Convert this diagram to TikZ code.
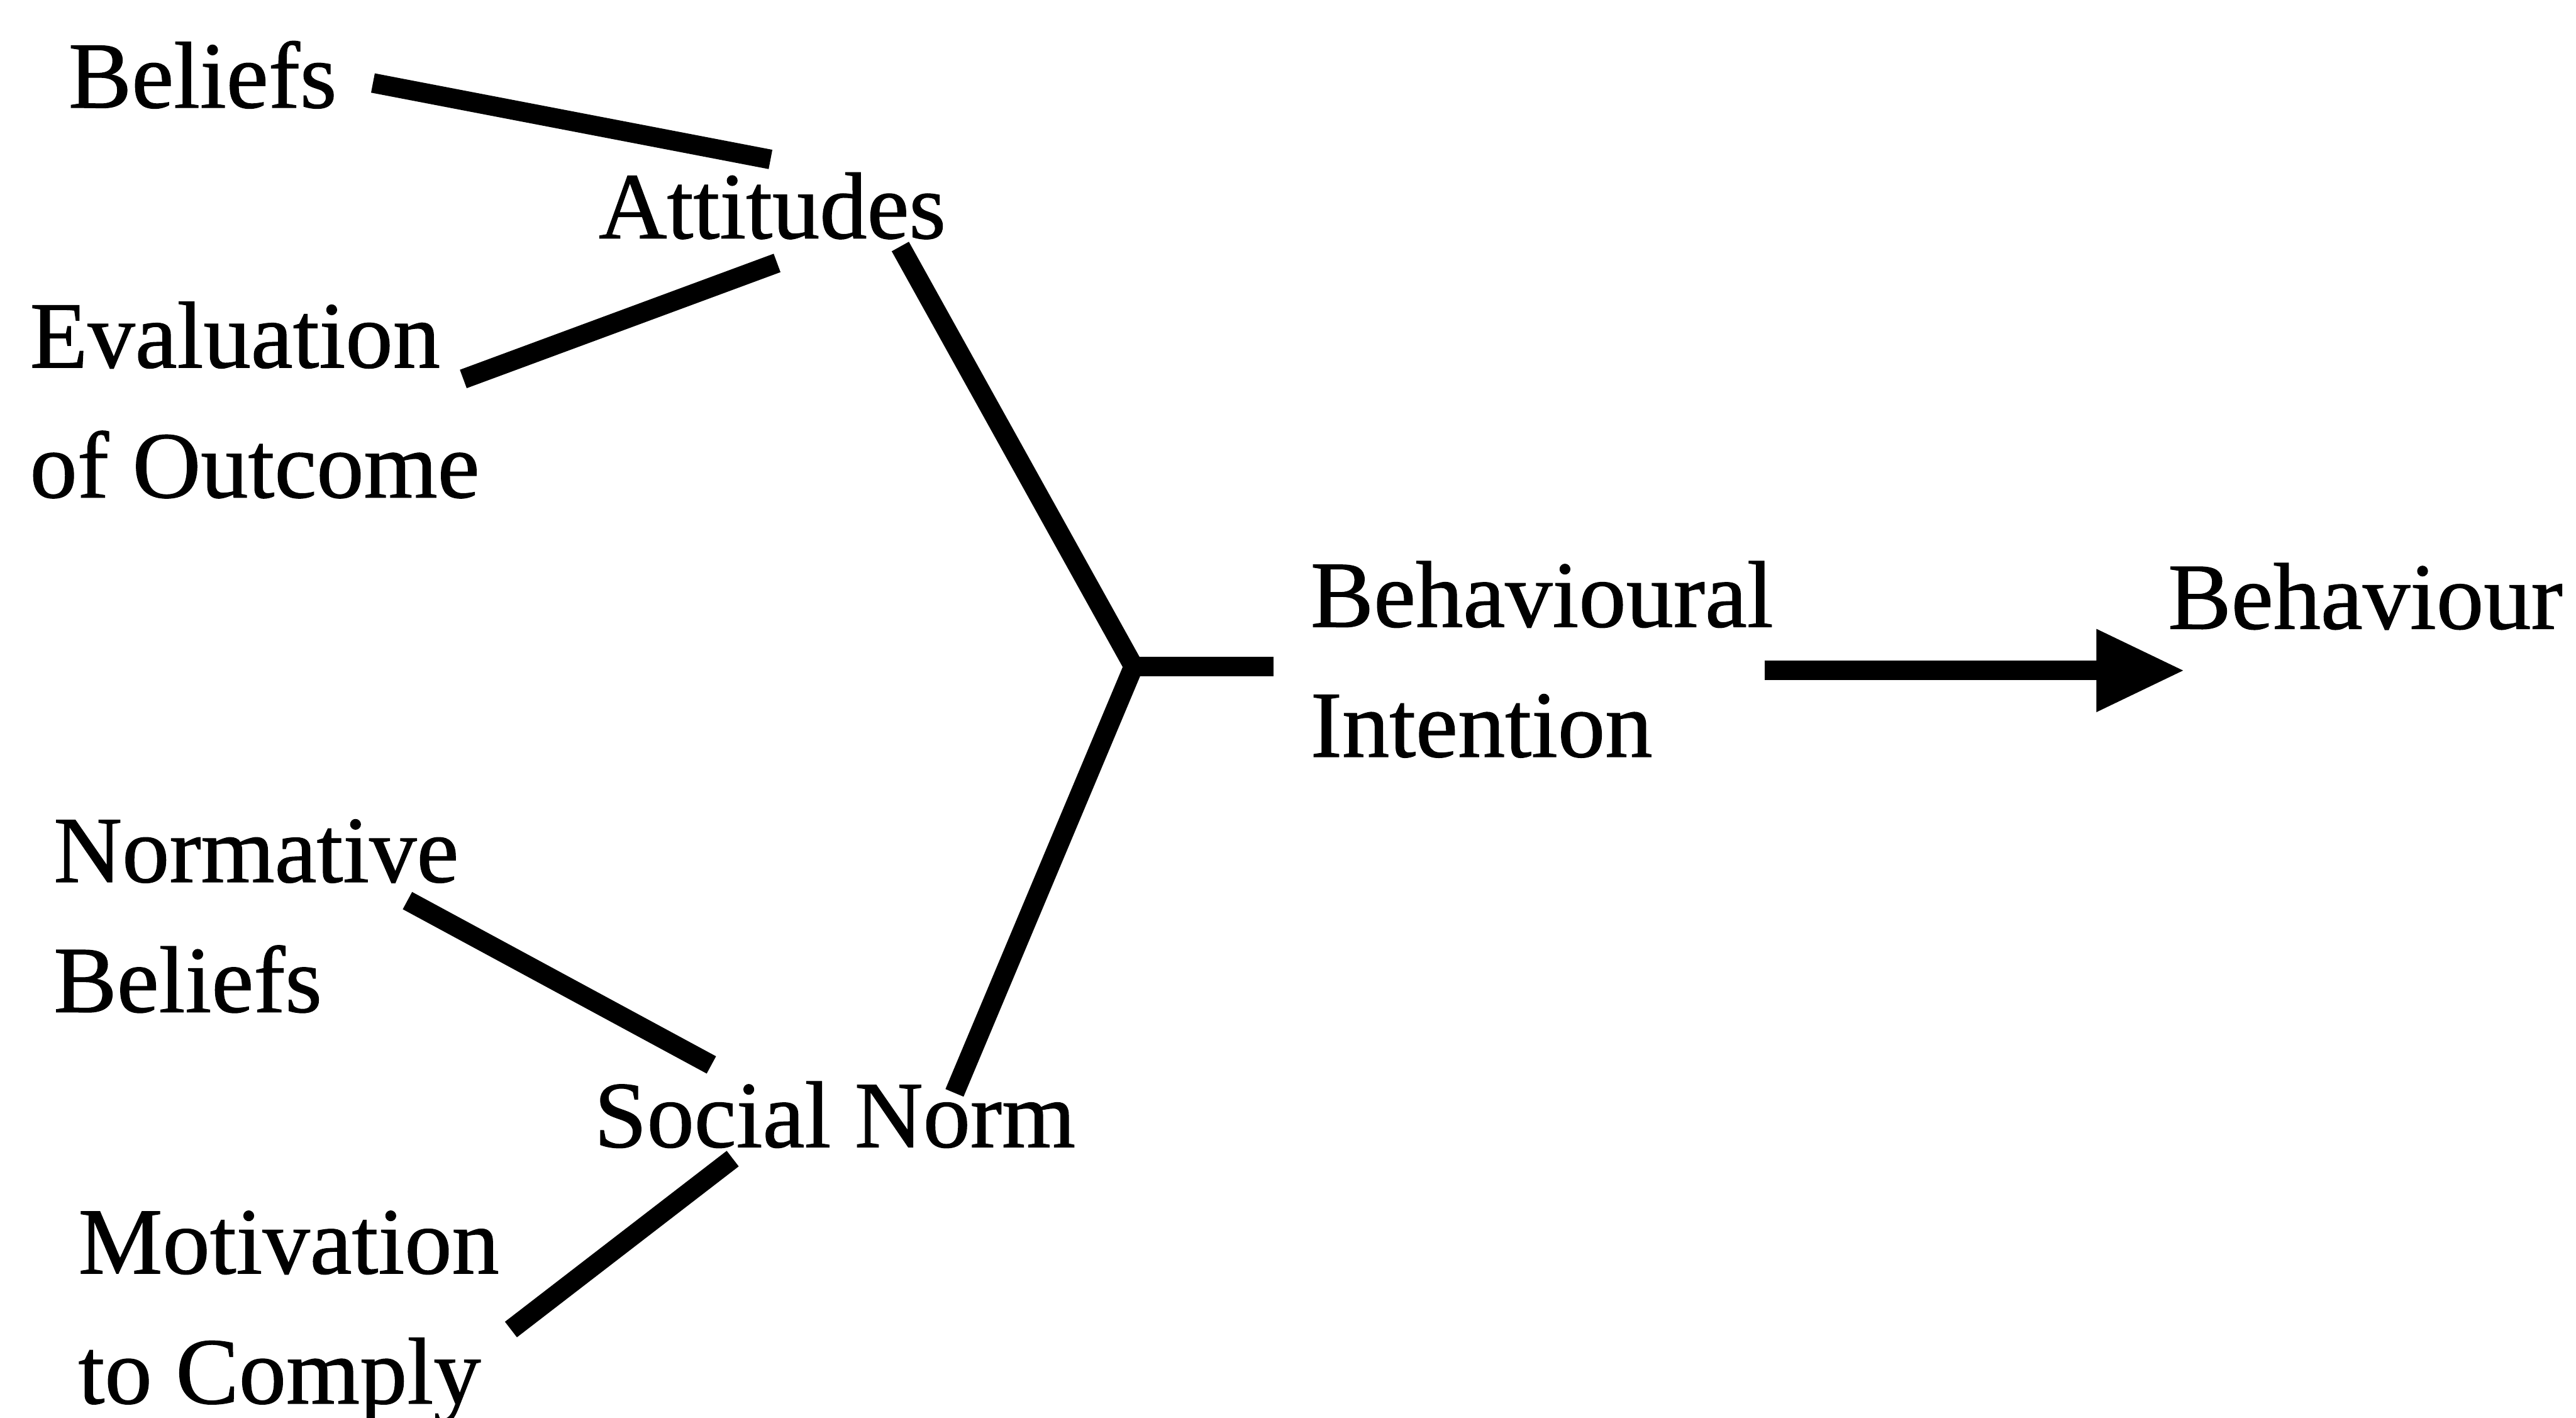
\documentclass[tikz,border=0pt]{standalone}
\usepackage{fontspec}
\setmainfont{Liberation Serif}[FakeBold=0.8]
\usetikzlibrary{arrows.meta}

\begin{document}
\begin{tikzpicture}[font=\fontsize{16.4}{22.5}\selectfont,
                     concept/.style={anchor=base west,inner sep=0pt,align=left},
                     link/.style={line width=3.4pt}]
  \useasboundingbox (0,0) rectangle (15.68,-8.625);
  % Begriffe des Modells.
  \node[concept] (beliefs) at (0.41,-0.655) {Beliefs};
  \node[concept] (attitudes) at (3.637,-1.45) {Attitudes};
  \node[concept] (evaluation) at (0.175,-3.027) {Evaluation\\of Outcome};
  \node[concept] (normative) at (0.32,-6.158) {Normative\\Beliefs};
  \node[concept] (socialnorm) at (3.61,-6.98) {Social Norm};
  \node[concept] (motivation) at (0.47,-8.54) {Motivation\\to Comply};
  \node[concept] (intention) at (7.97,-4.605) {Behavioural\\Intention};
  \node[concept] (behaviour) at (13.19,-3.826) {Behaviour};
  \coordinate (join) at (6.90,-4.055);
  % Verbindungen zu Einstellung und sozialer Norm.
  \draw[link] ([shift={(1.86,0.15)}]beliefs.base west)
       -- ([shift={(1.053,0.48)}]attitudes.base west);
  \draw[link] ([shift={(2.645,0.721)}]evaluation.base west)
       -- ([shift={(1.093,-0.15)}]attitudes.base west);
  \draw[link] ([shift={(2.16,0.678)}]normative.base west)
       -- ([shift={(0.72,0.50)}]socialnorm.base west);
  \draw[link] ([shift={(2.64,0.45)}]motivation.base west)
       -- ([shift={(0.85,-0.07)}]socialnorm.base west);
  % Zusammenfuehrung zur Verhaltensabsicht.
  \draw[link] ([shift={(1.843,-0.05)}]attitudes.base west) -- (join)
       -- ([shift={(2.20,0.33)}]socialnorm.base west);
  \draw[link] (join) -- ([shift={(-0.22,0.55)}]intention.base west);
  \draw[link,-{Triangle[length=0.54cm,width=0.47cm]}]
       ([shift={(2.77,0.525)}]intention.base west)
       -- ([shift={(0.11,-0.254)}]behaviour.base west);
\end{tikzpicture}
\end{document}
